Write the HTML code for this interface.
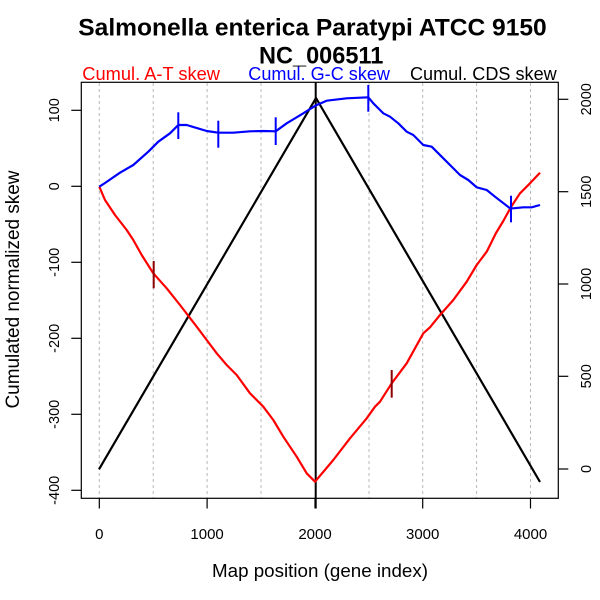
<!DOCTYPE html>
<html>
<head>
<meta charset="utf-8">
<style>
html,body{margin:0;padding:0;background:#fff;}
svg{display:block;}
text{font-family:"Liberation Sans",Arial,sans-serif;}
</style>
</head>
<body>
<svg width="600" height="600" viewBox="0 0 600 600" xmlns="http://www.w3.org/2000/svg">
<rect x="0" y="0" width="600" height="600" fill="#fff"/>

<!-- Title -->
<text x="78.3" y="35.7" font-size="24.5" font-weight="bold" textLength="468.4" lengthAdjust="spacingAndGlyphs">Salmonella enterica Paratypi ATCC 9150</text>
<text x="259" y="63.3" font-size="24.5" font-weight="bold" textLength="124.3" lengthAdjust="spacingAndGlyphs">NC_006511</text>

<!-- Legend texts -->
<text x="82.3" y="80" font-size="18" fill="#ff0000" textLength="137.7" lengthAdjust="spacingAndGlyphs">Cumul. A-T skew</text>
<text x="248.3" y="80" font-size="18" fill="#0000ff" textLength="141.7" lengthAdjust="spacingAndGlyphs">Cumul. G-C skew</text>
<text x="410" y="80" font-size="18" fill="#000" textLength="146.7" lengthAdjust="spacingAndGlyphs">Cumul. CDS skew</text>

<!-- Grid lines -->
<g stroke="#b8b8b8" stroke-width="1" stroke-dasharray="3,3">
<line x1="99.3" y1="83" x2="99.3" y2="498"/>
<line x1="153.2" y1="83" x2="153.2" y2="498"/>
<line x1="207.1" y1="83" x2="207.1" y2="498"/>
<line x1="261" y1="83" x2="261" y2="498"/>
<line x1="369" y1="83" x2="369" y2="498"/>
<line x1="422.7" y1="83" x2="422.7" y2="498"/>
<line x1="476.6" y1="83" x2="476.6" y2="498"/>
<line x1="530.5" y1="83" x2="530.5" y2="498"/>
</g>

<!-- Box -->
<rect x="81.3" y="82.3" width="477" height="416" fill="none" stroke="#000" stroke-width="1.2"/>

<!-- Bottom ticks -->
<g stroke="#000" stroke-width="1.2">
<line x1="99.3" y1="498" x2="99.3" y2="508.5"/>
<line x1="207.1" y1="498" x2="207.1" y2="508.5"/>
<line x1="315" y1="498" x2="315" y2="508.5"/>
<line x1="422.7" y1="498" x2="422.7" y2="508.5"/>
<line x1="530.5" y1="498" x2="530.5" y2="508.5"/>
<!-- Left ticks -->
<line x1="81.3" y1="110.3" x2="71.3" y2="110.3"/>
<line x1="81.3" y1="186.3" x2="71.3" y2="186.3"/>
<line x1="81.3" y1="262.3" x2="71.3" y2="262.3"/>
<line x1="81.3" y1="338.3" x2="71.3" y2="338.3"/>
<line x1="81.3" y1="414.3" x2="71.3" y2="414.3"/>
<line x1="81.3" y1="490.3" x2="71.3" y2="490.3"/>
<!-- Right ticks -->
<line x1="558.3" y1="99.3" x2="568.3" y2="99.3"/>
<line x1="558.3" y1="191.7" x2="568.3" y2="191.7"/>
<line x1="558.3" y1="284" x2="568.3" y2="284"/>
<line x1="558.3" y1="376.3" x2="568.3" y2="376.3"/>
<line x1="558.3" y1="469" x2="568.3" y2="469"/>
</g>

<!-- Bottom tick labels -->
<g font-size="15" text-anchor="middle" fill="#000">
<text x="99.3" y="539">0</text>
<text x="207.1" y="539">1000</text>
<text x="315" y="539">2000</text>
<text x="422.7" y="539">3000</text>
<text x="530.5" y="539">4000</text>
</g>

<!-- Left tick labels (rotated) -->
<g font-size="14.5" text-anchor="middle" fill="#000">
<text transform="translate(59,110.3) rotate(-90)">100</text>
<text transform="translate(59,186.3) rotate(-90)">0</text>
<text transform="translate(59,262.3) rotate(-90)">-100</text>
<text transform="translate(59,338.3) rotate(-90)">-200</text>
<text transform="translate(59,414.3) rotate(-90)">-300</text>
<text transform="translate(59,490.3) rotate(-90)">-400</text>
</g>

<!-- Right tick labels (rotated) -->
<g font-size="14.5" text-anchor="middle" fill="#000">
<text transform="translate(591,99.3) rotate(-90)">2000</text>
<text transform="translate(591,191.7) rotate(-90)">1500</text>
<text transform="translate(591,284) rotate(-90)">1000</text>
<text transform="translate(591,376.3) rotate(-90)">500</text>
<text transform="translate(591,469) rotate(-90)">0</text>
</g>

<!-- Axis titles -->
<text x="320" y="577" font-size="18.5" text-anchor="middle" textLength="216" lengthAdjust="spacingAndGlyphs">Map position (gene index)</text>
<text transform="translate(19,289.5) rotate(-90)" font-size="19" text-anchor="middle" textLength="238" lengthAdjust="spacingAndGlyphs">Cumulated normalized skew</text>

<!-- CDS skew (black) -->
<polyline fill="none" stroke="#000" stroke-width="2.2" stroke-linejoin="miter" points="99,469.3 316,98 540,482"/>
<line x1="315.7" y1="82" x2="315.7" y2="508.5" stroke="#000" stroke-width="2"/>

<!-- A-T skew (red) -->
<polyline fill="none" stroke="#ff0000" stroke-width="2.2" stroke-linejoin="round" points="99.3,186.7 105,200 115,215 126.7,230 133.3,240 141.7,255 153.3,273.3 166.7,288.3 180,305 196.7,326.7 206.7,340 216.7,353.3 226.7,365 236.7,375 250,393.3 263.3,406.7 273.3,420 283.3,436.7 296.7,456.7 306.7,473.3 315,481.7 333.3,460 350,438.3 366.7,418.3 375,406.7 380,401.7 391.7,383.3 406.7,363.3 423.3,333.3 430,327.3 440,315 453.3,300 466.7,281.7 476.7,265 486.7,251.7 496,233 503.3,221 511,207 520,193.3 530,183.3 540,172.7"/>

<!-- G-C skew (blue) -->
<polyline fill="none" stroke="#0000ff" stroke-width="2.2" stroke-linejoin="round" points="99.3,186.7 105,183 120,172.7 133.3,165 148.3,151.7 158.3,141.7 170,133.3 178.3,125 186.7,125 206.7,131 218.3,132.7 233.3,132.7 250,131.3 263.3,131 275.7,131.3 286.7,123.3 303.3,113.3 310,109 316.7,105 326.7,100.7 346.7,98.3 368.3,97.3 373.3,103.3 383.3,113.3 390,116.7 398.3,123.3 406.7,131.7 413.3,135 423.3,145 431.7,146.7 438.3,153.3 450,165 460,175 468.3,180 476.7,187.3 486.7,190 495,196.7 510,208.3 513.3,208.3 523.3,207.3 531.7,207.3 540,205"/>

<!-- Blue tick marks -->
<g stroke="#0000ff" stroke-width="2">
<line x1="178.3" y1="112.3" x2="178.3" y2="139"/>
<line x1="218.3" y1="120.7" x2="218.3" y2="147.7"/>
<line x1="275.7" y1="117.3" x2="275.7" y2="145"/>
<line x1="368.3" y1="85" x2="368.3" y2="111.7"/>
<line x1="511" y1="195.7" x2="511" y2="222.3"/>
</g>

<!-- Dark red tick marks -->
<g stroke="#8b0000" stroke-width="2">
<line x1="153.7" y1="261" x2="153.7" y2="288.3"/>
<line x1="391.7" y1="370" x2="391.7" y2="397.7"/>
</g>
</svg>
</body>
</html>
